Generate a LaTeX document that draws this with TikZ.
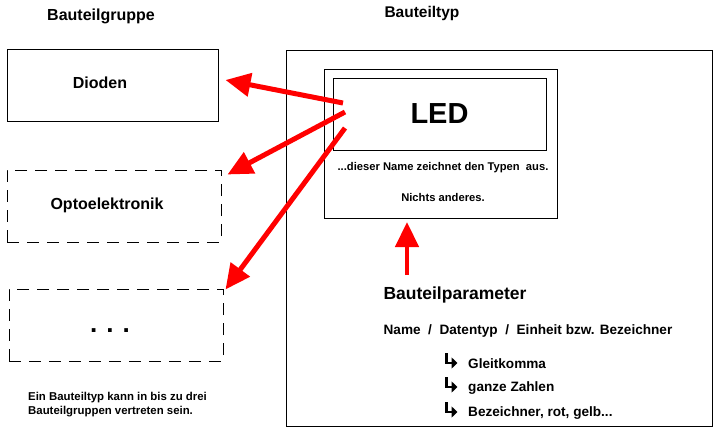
\documentclass[tikz,border=0pt]{standalone}
\usepackage{fontspec}
\setmainfont{Liberation Sans}
\usetikzlibrary{arrows.meta,positioning}
\tikzset{
	titel/.style={font=\fontsize{16}{18}\selectfont\bfseries},
	klein/.style={font=\fontsize{11.2}{13}\selectfont\bfseries},
	mittel/.style={font=\fontsize{13.6}{15}\selectfont\bfseries},
	kasten/.style={draw, line width=1pt, inner sep=0pt},
	strichkasten/.style={kasten, dash pattern=on 12pt off 8pt},
	rotpfeil/.style={draw=red, line width=5pt, -{Triangle[length=25pt,width=23pt]}},
	hakenpfeil/.style={draw, line width=2.8pt, -{Triangle[length=6pt,width=11pt]}},
}

\begin{document}
\begin{tikzpicture}[x=1pt, y=-1pt]
			%%%%% START %%%%%
			\useasboundingbox (0,0) rectangle (718,432);
			
			% Bauteilgruppen links
			\node[titel] (gruppetitel) at (101,16) {Bauteilgruppe};
			\node[kasten, minimum width=211pt, minimum height=72pt] (dioden) at (112.5,85) {};
			\node[titel] (diodentext) at (100,83) {Dioden};
			\node[strichkasten, minimum width=214pt, minimum height=72pt] (opto) at (114,206) {};
			\node[titel] (optotext) at (107,205) {Optoelektronik};
			\node[strichkasten, minimum width=214pt, minimum height=72pt] (punktkasten) at (116,325) {};
			\node[font=\fontsize{26}{26}\selectfont\bfseries, inner sep=0pt] (punkte) at (110,331) {.\hspace{9pt}.\hspace{9pt}.};
			\node[font=\fontsize{11.4}{14}\selectfont\bfseries, align=left, anchor=west, inner sep=0pt] (hinweis) at (28,405) {Ein Bauteiltyp kann in bis zu drei\\Bauteilgruppen vertreten sein.};
			
			% Bauteiltyp rechts
			\node[titel, font=\fontsize{15.5}{18}\selectfont\bfseries] (typtitel) at (422,13) {Bauteiltyp};
			\node[kasten, minimum width=426pt, minimum height=376pt] (typ) at (499,238) {};
			\node[kasten, minimum width=233pt, minimum height=149pt] (ledaussen) at (440.5,143.5) {};
			\node[kasten, minimum width=213pt, minimum height=72pt, font=\fontsize{29}{30}\selectfont\bfseries] (led) at (439.5,114) {LED};
			\node[klein] (dieser) at (443,168) {...dieser Name zeichnet den Typen\ \ aus.};
			\node[klein] (nichts) at (443,197) {Nichts anderes.};
			
			\node[titel, font=\fontsize{17.5}{20}\selectfont\bfseries] (param) at (455,295) {Bauteilparameter};
			\node[mittel] (felder) at (528,331) {Name\ \ /\ \ Datentyp\ \ /\ \ Einheit bzw. Bezeichner};
			\foreach \y/\t/\n in {364/Gleitkomma/a, 388/{ganze Zahlen}/b, 413/{Bezeichner, rot, gelb...}/c}{
				\coordinate (haken\n) at (446.5,\y-11);
				\draw[hakenpfeil] (haken\n) -- ++(0,10) -- ++(11,0);
				\node[mittel, anchor=west, inner sep=0pt] (wert\n) at (468,\y) {\t};
			}
			
			% rote Pfeile
			\coordinate (ab1) at (343,103);
			\coordinate (ab2) at (345,112);
			\coordinate (ab3) at (345,128);
			\coordinate (auf) at (407,275);
			\draw[rotpfeil] (ab1) -- ([xshift=7pt,yshift=5pt]dioden.east);
			\draw[rotpfeil] (ab2) -- ([xshift=6pt,yshift=-5pt]opto.north east);
			\draw[rotpfeil] (ab3) -- ([xshift=2pt,yshift=-1pt]punktkasten.north east);
			\draw[rotpfeil, line width=4.5pt, shorten >=3.5pt] (auf) -- (auf |- ledaussen.south);
			
			%%%%% END %%%%%
\end{tikzpicture}
\end{document}
